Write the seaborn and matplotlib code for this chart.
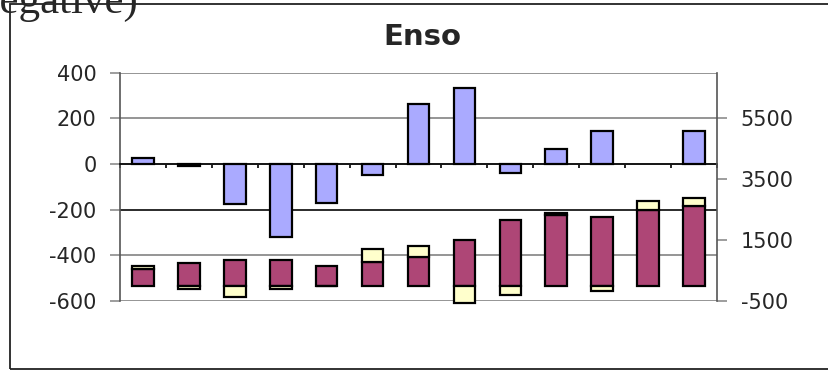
import numpy as np
import pandas as pd
import seaborn as sns
import matplotlib.pyplot as plt
from matplotlib.patches import Rectangle

# values (period 12 has no Enso bar)
periods = [str(i) for i in range(1, 14)]
enso = [25, -8, -175, -320, -170, -50, 262, 332, -38, 64, 144, np.nan, 144]
purple = [550, 740, 850, 850, 660, 790, 955, 1505, 2165, 2340, 2275, 2505, 2635]
yellow = [110, -110, -360, -110, 0, 420, 360, -580, -300, 55, -185, 265, 245]

left_ticks = [-600, -400, -200, 0, 200, 400]
right_ticks = [-500, 1500, 3500, 5500]

sns.set_style("white")
plt.rcParams['font.family'] = ['DejaVu Sans']
plt.rcParams['axes.unicode_minus'] = False

df = pd.DataFrame({'period': periods, 'enso': enso, 'purple': purple, 'yellow': yellow})
yellow_bottom = np.where(df['yellow'] > 0, df['purple'], 0)

W, H = 829, 371
fig = plt.figure(figsize=(W / 100, H / 100), dpi=100)
ax = fig.add_axes([120 / W, 1 - 301 / H, (717 - 120) / W, (301 - 72.7) / H])
ax2 = ax.twinx()

bar_kw = dict(width=0.47, edgecolor='black', linewidth=1.6, saturation=1, errorbar=None)

sns.barplot(data=df, x='period', y='enso', color='#AAAAFF', ax=ax, **bar_kw)
sns.barplot(data=df, x='period', y='purple', color='#AE4676', ax=ax2, clip_on=False, **bar_kw)
sns.barplot(data=df, x='period', y='yellow', color='#FFFFCC', ax=ax2,
            bottom=yellow_bottom, clip_on=False, **bar_kw)

ax.set_ylim(-600, 400)
ax2.set_ylim(-500, 7000)
ax.set_yticks(left_ticks)
ax2.set_yticks(right_ticks)
ax.set_xlim(-0.5, 12.5)
ax.set_xticks(np.arange(-0.5, 13, 1))
ax.set_xlabel('')
ax.set_ylabel('')
ax2.set_ylabel('')

ax.grid(axis='y', color='#8c8c8c', linewidth=1.3)
ax.set_axisbelow(True)
ax.get_ygridlines()[2].set_color('#1a1a1a')

ax.spines['bottom'].set_position(('data', 0))
ax.spines['bottom'].set_color('black')
ax.spines['bottom'].set_linewidth(1.2)
ax.spines['left'].set_color('#555555')
ax.spines['left'].set_linewidth(1.2)
for s in ['top', 'right']:
    ax.spines[s].set_visible(False)
for s in ['top', 'left', 'bottom']:
    ax2.spines[s].set_visible(False)
ax2.spines['right'].set_color('#555555')
ax2.spines['right'].set_linewidth(1.2)

ax.tick_params(axis='x', direction='out', length=3, width=1.2, color='black', labelbottom=False, bottom=True)
ax.tick_params(axis='y', direction='out', length=7, width=1.2, color='#8c8c8c', pad=10, labelsize=15)
ax2.tick_params(axis='y', direction='out', length=7, width=1.2, color='#8c8c8c', pad=10, labelsize=15)

fig.text(422 / W, 1 - 37 / H, 'Enso', ha='center', va='center', fontsize=21, fontweight='bold')
fig.text(-22 / W, 1 - 12.7 / H, 'negative)', ha='left', va='baseline', fontsize=31,
         family=['Liberation Serif', 'DejaVu Serif'])
fig.patches.append(Rectangle((10 / W, 1 - 369 / H), 1.0, (369 - 4) / H, transform=fig.transFigure,
                             fill=False, edgecolor='#222222', linewidth=1.3))

fig.savefig('out.png', dpi=100)
